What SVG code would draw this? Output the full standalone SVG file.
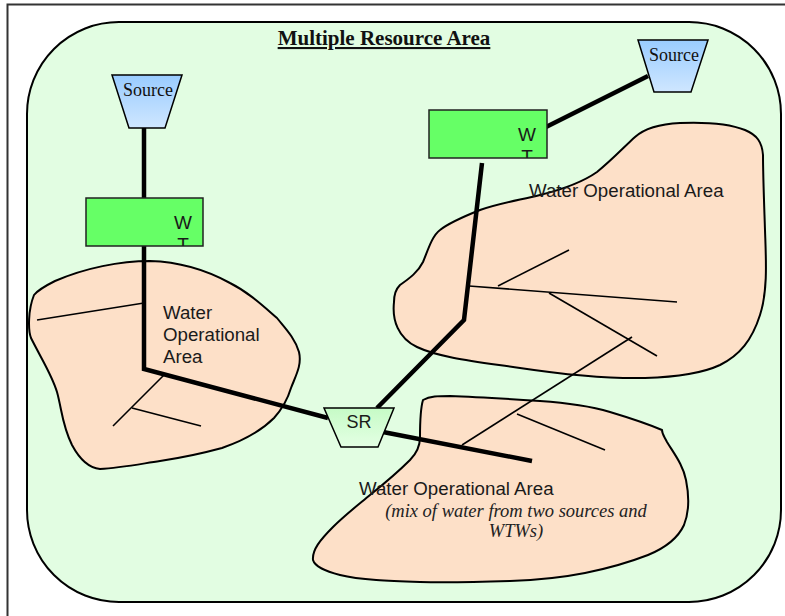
<svg xmlns="http://www.w3.org/2000/svg" width="785" height="616" viewBox="0 0 785 616">
  <defs>
    <linearGradient id="srcFill" x1="0" y1="0" x2="0" y2="1">
      <stop offset="0" stop-color="#99ccff"/>
      <stop offset="1" stop-color="#cfe6ff"/>
    </linearGradient>
    <linearGradient id="srFill" x1="0" y1="0" x2="0" y2="1">
      <stop offset="0" stop-color="#c6fbc6"/>
      <stop offset="1" stop-color="#e4ffe4"/>
    </linearGradient>
    <clipPath id="clipW1"><rect x="86" y="198" width="117" height="48"/></clipPath>
    <clipPath id="clipW2"><rect x="429" y="110" width="118" height="48"/></clipPath>
  </defs>
  <style>
    .frame { fill: none; stroke: #333; stroke-width: 2; }
    .area { fill: #e2fde2; stroke: #000; stroke-width: 2; }
    .blob { fill: #fde0c8; stroke: #000; stroke-width: 2; stroke-linejoin: round; }
    .branch { fill: none; stroke: #000; stroke-width: 1.6; stroke-linecap: butt; }
    .main { fill: none; stroke: #000; stroke-width: 4.5; stroke-linejoin: miter; }
    .src { fill: url(#srcFill); stroke: #000; stroke-width: 1.5; }
    .sr { fill: url(#srFill); stroke: #000; stroke-width: 1.5; }
    .wtw { fill: #66ff66; stroke: #222; stroke-width: 1.5; }
    .serif { font-family: "Liberation Serif", "Times New Roman", serif; fill: #111; }
    .sans { font-family: "Liberation Sans", Arial, sans-serif; fill: #1a1a1a; }
    .title { font-size: 21px; font-weight: bold; text-decoration: underline; }
    .lbl { font-size: 18.7px; }
    .note { font-size: 18.5px; font-style: italic; fill: #222; }
  </style>

  <!-- page frame -->
  <path class="frame" d="M7.5 616 V4.5 H785"/>

  <!-- resource area background -->
  <g id="resource-area">
    <rect class="area" x="27" y="22" width="754" height="580" rx="92" ry="92"/>
    <text class="serif title" x="384" y="45" text-anchor="middle">Multiple Resource Area</text>
  </g>

  <!-- operational areas -->
  <g id="woa-left">
    <path class="blob" d="M34 295 C28 310 28 330 31 338 C42 360 52 375 57 392 C62 410 62 425 72 445 C80 460 90 468 100 469 C120 468 140 464 160 461 C180 458 200 454 222 448 C245 440 262 430 274 418 C283 408 288 398 291 388 C296 375 302 365 299 352 C295 338 285 328 277 318 C262 305 248 292 230 283 C210 272 185 262 150 261 C120 261 85 268 55 281 C45 286 38 290 34 295 Z"/>
    <text class="sans lbl" x="163" y="319">Water</text>
    <text class="sans lbl" x="163" y="341">Operational</text>
    <text class="sans lbl" x="163" y="363">Area</text>
  </g>

  <g id="woa-right">
    <path class="blob" d="M394 302 C392 320 398 338 417 347 C440 358 480 362 520 368 C560 374 600 379 645 378 C680 377 705 372 720 365 C740 355 752 340 760 315 C768 290 766 260 765 230 C764 200 763 175 763 155 C762 142 757 135 745 130 C730 124 705 122 680 123 C660 124 645 128 635 137 C625 146 612 160 597 172 C580 184 560 190 540 195 C520 200 500 203 480 210 C465 216 450 222 440 230 C432 236 428 250 423 262 C418 272 410 278 400 285 C395 290 394 296 394 302 Z"/>
    <text class="sans lbl" x="529" y="197">Water Operational Area</text>
  </g>

  <g id="woa-bottom">
    <path class="blob" d="M423 400 C430 396 438 396 450 396 C480 397 510 399 540 401 C570 403 590 406 610 412 C630 418 648 424 662 430 C662 434 664 436 667 442 C675 455 683 465 686 480 C689 495 690 510 684 525 C678 538 665 548 648 555 C630 562 610 568 585 573 C560 578 540 580 510 581 C480 582 450 583 420 582 C390 581 360 580 340 575 C325 571 315 567 313 560 C312 550 320 540 333 527 C345 515 358 505 370 495 C385 483 398 472 410 460 C418 452 420 445 420 437 C420 425 420 410 423 400 Z"/>
    <text class="sans lbl" x="359" y="495">Water Operational Area</text>
    <text class="serif note" x="516" y="517" text-anchor="middle">(mix of water from two sources and</text>
    <text class="serif note" x="516" y="537" text-anchor="middle">WTWs)</text>
  </g>

  <!-- connectors: trunk mains and local distribution branches -->
  <g id="connectors">
    <path class="main" d="M144 128 V198"/>
    <path class="main" d="M144 246 V369 L328 418"/>
    <path class="main" d="M383 432 L532 461"/>
    <path class="main" d="M377 408 L464 320 L482 163"/>
    <path class="main" d="M648 76 L546 127"/>

    <path class="branch" d="M37 320 L144 303"/>
    <path class="branch" d="M164 375 L113 426"/>
    <path class="branch" d="M132 408 L201 426"/>

    <path class="branch" d="M469 286 L677 302"/>
    <path class="branch" d="M498 286 L569 250"/>
    <path class="branch" d="M549 293 L657 356"/>
    <path class="branch" d="M632 337 L462 445"/>
    <path class="branch" d="M517 414 L605 450"/>
  </g>

  <!-- sources -->
  <g id="source-left">
    <polygon class="src" points="112,75 182,75 165,128 129,128"/>
    <text class="serif" x="148" y="96" font-size="18" text-anchor="middle">Source</text>
  </g>
  <g id="source-right">
    <polygon class="src" points="638,40 708,40 691,92 654,92"/>
    <text class="serif" x="674" y="61" font-size="18" text-anchor="middle">Source</text>
  </g>

  <!-- treatment works -->
  <g id="wtw-left">
    <rect class="wtw" x="86" y="198" width="117" height="48"/>
    <g clip-path="url(#clipW1)">
      <text class="sans" x="183" y="229" font-size="19" text-anchor="middle">W</text>
      <text class="sans" x="183" y="251" font-size="19" text-anchor="middle">T</text>
    </g>
  </g>
  <g id="wtw-right">
    <rect class="wtw" x="429" y="110" width="118" height="48"/>
    <g clip-path="url(#clipW2)">
      <text class="sans" x="527" y="141" font-size="19" text-anchor="middle">W</text>
      <text class="sans" x="527" y="163" font-size="19" text-anchor="middle">T</text>
    </g>
  </g>

  <!-- service reservoir -->
  <g id="service-reservoir">
    <polygon class="sr" points="324,408 394,408 378,447 341,447"/>
    <text class="sans" x="359" y="428" font-size="18" text-anchor="middle">SR</text>
  </g>
</svg>
